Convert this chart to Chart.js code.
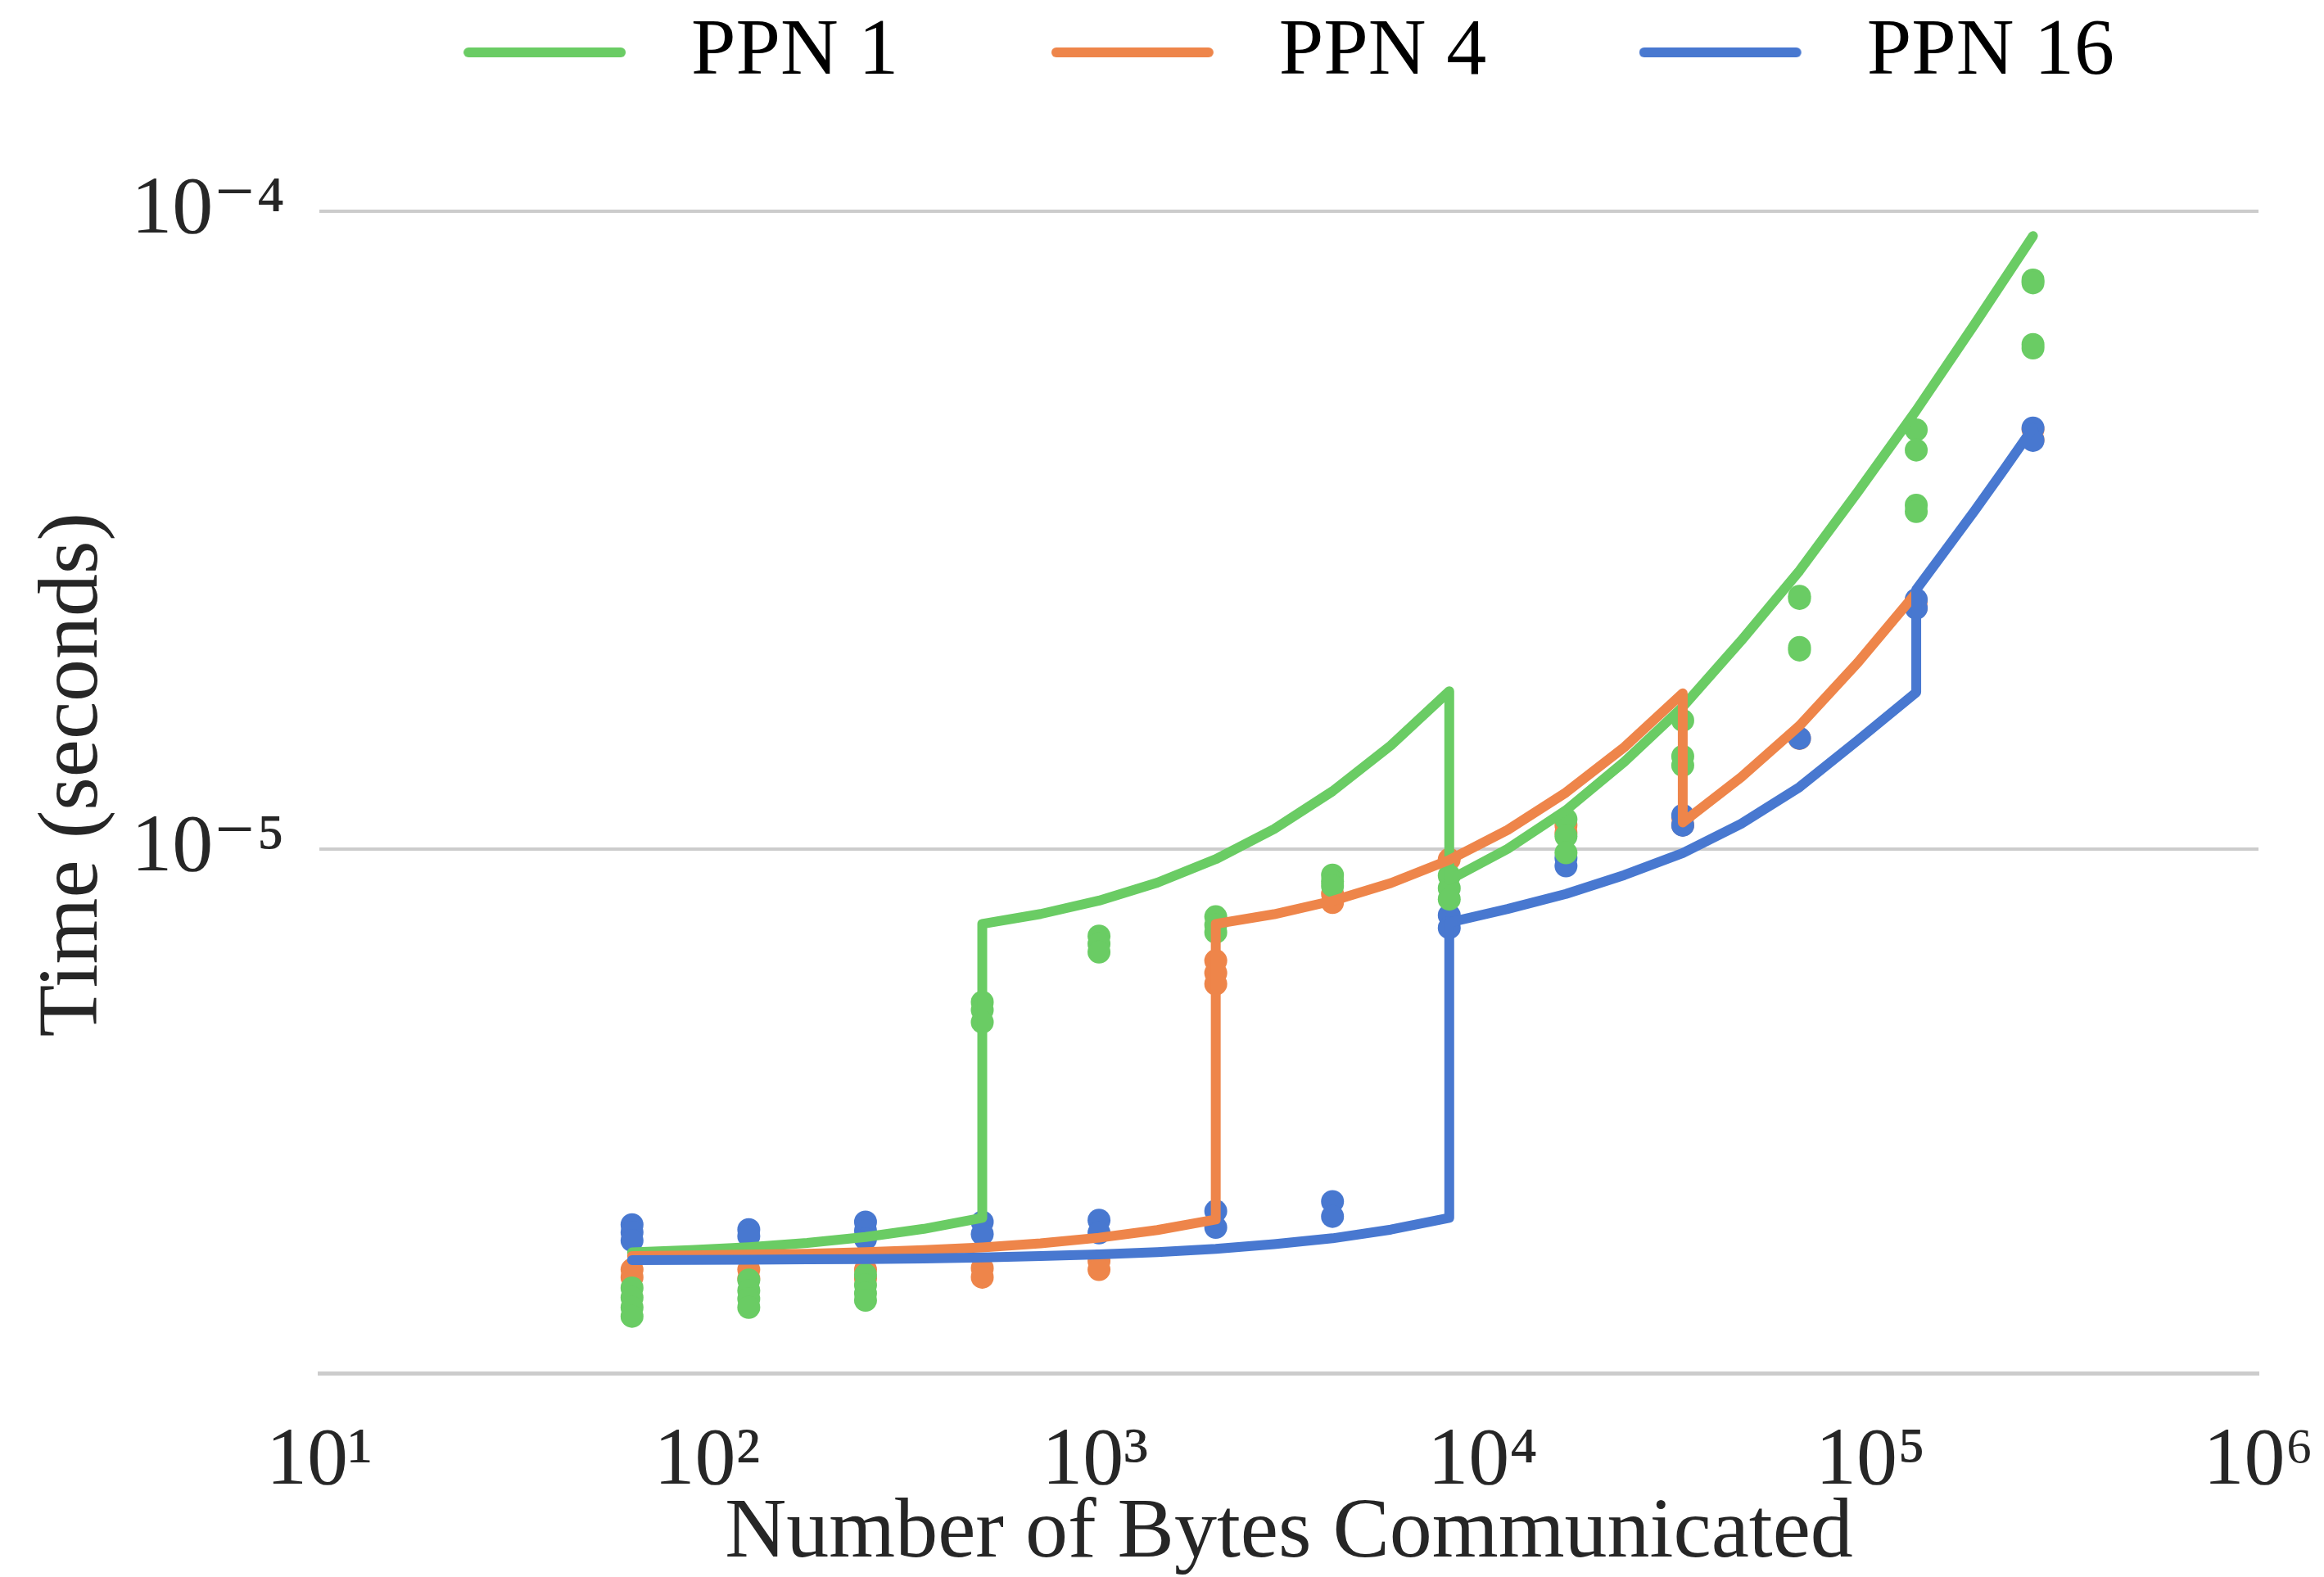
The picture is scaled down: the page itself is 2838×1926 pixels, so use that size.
<!DOCTYPE html>
<html>
<head>
<meta charset="utf-8">
<script src="https://cdn.jsdelivr.net/npm/chart.js@4/dist/chart.umd.min.js"></script>
<style>
  html, body { margin: 0; padding: 0; background: #fff; }
</style>
</head>
<body>
<canvas id="chart" width="2838" height="1926"></canvas>
<script>
// message sizes (bytes) where timings were measured
const messageSizes = [64, 128, 256, 512, 1024, 2048, 4096, 8192, 16384, 32768, 65536, 131072, 262144];

// measured times (seconds), one list per message size
const ppn1Times = [
    [2.05e-6, 1.98e-6, 1.91e-6, 1.85e-6],
    [2.11e-6, 2.03e-6, 1.97e-6, 1.91e-6],
    [2.15e-6, 2.07e-6, 2.01e-6, 1.96e-6],
    [5.75e-6, 5.59e-6, 5.35e-6],
    [7.30e-6, 7.10e-6, 6.89e-6],
    [7.83e-6, 7.60e-6, 7.40e-6],
    [9.10e-6, 8.90e-6, 8.75e-6],
    [9.08e-6, 8.68e-6, 8.34e-6],
    [1.113e-5, 1.047e-5, 9.86e-6],
    [1.59e-5, 1.397e-5, 1.352e-5],
    [2.49e-5, 2.47e-5, 2.07e-5, 2.05e-5],
    [4.54e-5, 4.22e-5, 3.46e-5, 3.38e-5],
    [7.80e-5, 7.72e-5, 6.18e-5, 6.10e-5]
];
const ppn4Times = [
    [2.19e-6, 2.13e-6],
    [2.19e-6, 2.12e-6],
    [2.19e-6, 2.12e-6],
    [2.20e-6, 2.13e-6],
    [2.26e-6, 2.19e-6],
    [6.68e-6, 6.39e-6, 6.14e-6],
    [8.50e-6, 8.24e-6],
    [9.63e-6],
    [1.09e-5, 1.06e-5],
    [1.12e-5, 1.09e-5],
    [1.49e-5],
    [2.45e-5, 2.39e-5],
    [4.55e-5, 4.38e-5]
];
const ppn16Times = [
    [2.576e-6, 2.505e-6, 2.432e-6],
    [2.53e-6, 2.47e-6],
    [2.60e-6, 2.52e-6, 2.445e-6],
    [2.60e-6, 2.489e-6],
    [2.618e-6, 2.50e-6],
    [2.705e-6, 2.55e-6],
    [2.80e-6, 2.653e-6],
    [7.87e-6, 7.52e-6],
    [9.68e-6, 9.405e-6],
    [1.129e-5, 1.089e-5],
    [1.491e-5],
    [2.46e-5, 2.385e-5],
    [4.57e-5, 4.37e-5]
];

// model curves (x = bytes, y = seconds), repeated x = jump
const ppn1ModelX = [64, 90.5, 128, 181, 256, 362, 512, 512, 724, 1024, 1448, 2048, 2896, 4096, 5793, 8192, 8192, 11585, 16384, 23170, 32768, 46341, 65536, 92682, 131072, 185364, 262144];
const ppn1ModelY = [2.33e-6, 2.349e-6, 2.375e-6, 2.411e-6, 2.463e-6, 2.537e-6, 2.64e-6, 7.63e-6, 7.906e-6, 8.298e-6, 8.853e-6, 9.637e-6, 1.0745e-5, 1.2314e-5, 1.453e-5, 1.767e-5, 8.94e-6, 1.00e-5, 1.15e-5, 1.37e-5, 1.67e-5, 2.12e-5, 2.73e-5, 3.63e-5, 4.87e-5, 6.65e-5, 9.14e-5];
const ppn4ModelX = [64, 90.5, 128, 181, 256, 362, 512, 724, 1024, 1448, 2048, 2048, 2896, 4096, 5793, 8192, 11585, 16384, 23170, 32768, 32768, 46341, 65536, 92682, 131072];
const ppn4ModelY = [2.30e-6, 2.305e-6, 2.311e-6, 2.319e-6, 2.332e-6, 2.349e-6, 2.373e-6, 2.408e-6, 2.457e-6, 2.526e-6, 2.624e-6, 7.63e-6, 7.90e-6, 8.29e-6, 8.84e-6, 9.61e-6, 1.071e-5, 1.226e-5, 1.444e-5, 1.754e-5, 1.10e-5, 1.295e-5, 1.56e-5, 1.96e-5, 2.52e-5];
const ppn16ModelX = [64, 128, 181, 256, 362, 512, 724, 1024, 1448, 2048, 2896, 4096, 5793, 8192, 8192, 11585, 16384, 23170, 32768, 46341, 65536, 92682, 131072, 131072, 155872, 185364, 220436, 262144];
const ppn16ModelY = [2.266e-6, 2.269e-6, 2.272e-6, 2.275e-6, 2.28e-6, 2.288e-6, 2.299e-6, 2.313e-6, 2.332e-6, 2.36e-6, 2.40e-6, 2.452e-6, 2.53e-6, 2.64e-6, 7.67e-6, 8.05e-6, 8.5e-6, 9.1e-6, 9.85e-6, 1.095e-5, 1.25e-5, 1.48e-5, 1.76e-5, 2.55e-5, 2.94e-5, 3.39e-5, 3.93e-5, 4.57e-5];

// axes
const xTickValues = [10, 100, 1000, 10000, 100000, 1000000];
const xTickLabels = ['10\u00B9', '10\u00B2', '10\u00B3', '10\u2074', '10\u2075', '10\u2076'];
const yTickValues = [1e-5, 1e-4];
const yTickLabels = ['10\u207B\u2075', '10\u207B\u2074'];
const yMin = 1.507e-6;
const yMax = 1.135e-4;

const seriesNames = ['PPN 1', 'PPN 4', 'PPN 16'];
const seriesColors = ['#6acc64', '#ee854a', '#4878d0'];

const fontFamily = '"Liberation Serif", "DejaVu Serif", serif';
const textColor = '#262626';

function scatterPoints(times) {
    const pts = [];
    messageSizes.forEach((size, i) => {
        times[i].forEach(t => pts.push({ x: size, y: t }));
    });
    return pts;
}
function modelPoints(xs, ys) {
    return xs.map((x, i) => ({ x: x, y: ys[i] }));
}

// legend swatch: a short thick line with round ends
function legendSwatch(color) {
    const c = document.createElement('canvas');
    c.width = 229;
    c.height = 14;
    const g = c.getContext('2d');
    g.strokeStyle = color;
    g.lineWidth = 12;
    g.lineCap = 'round';
    g.beginPath();
    g.moveTo(6, 7);
    g.lineTo(192, 7);
    g.stroke();
    return c;
}

function lineSet(i, xs, ys, order) {
    return {
        type: 'scatter',
        label: seriesNames[i],
        data: modelPoints(xs, ys),
        showLine: true,
        borderColor: seriesColors[i],
        backgroundColor: seriesColors[i],
        borderWidth: 12,
        borderCapStyle: 'round',
        borderJoinStyle: 'round',
        pointRadius: 0,
        tension: 0,
        order: order
    };
}
function dotSet(i, times, order) {
    return {
        type: 'scatter',
        label: seriesNames[i] + ' runs',
        data: scatterPoints(times),
        showLine: false,
        backgroundColor: seriesColors[i],
        pointBackgroundColor: seriesColors[i],
        pointBorderWidth: 0,
        pointRadius: 14,
        order: order
    };
}

const chart = new Chart(document.getElementById('chart').getContext('2d'), {
    type: 'scatter',
    data: {
        datasets: [
            lineSet(0, ppn1ModelX, ppn1ModelY, 2),
            lineSet(1, ppn4ModelX, ppn4ModelY, 1),
            lineSet(2, ppn16ModelX, ppn16ModelY, 0),
            dotSet(0, ppn1Times, 3),
            dotSet(1, ppn4Times, 5),
            dotSet(2, ppn16Times, 4)
        ]
    },
    options: {
        responsive: false,
        animation: false,
        devicePixelRatio: 1,
        events: [],
        layout: { padding: { left: 0, right: 80, top: 0, bottom: 0 } },
        scales: {
            x: {
                type: 'logarithmic',
                position: 'bottom',
                min: 10,
                max: 1000000,
                afterBuildTicks: scale => { scale.ticks = xTickValues.map(v => ({ value: v })); },
                afterFit: scale => {
                    scale.height = 249;
                    scale.paddingLeft = 0;
                    scale.paddingRight = 0;
                },
                grid: { display: false, drawTicks: false },
                border: { display: true, color: '#cccccc', width: 5 },
                ticks: {
                    autoSkip: false,
                    maxRotation: 0,
                    padding: 49,
                    color: textColor,
                    font: { family: fontFamily, size: 100 },
                    callback: v => xTickLabels[xTickValues.indexOf(v)]
                },
                title: {
                    display: true,
                    text: 'Number of Bytes Communicated',
                    color: textColor,
                    font: { family: fontFamily, size: 104, lineHeight: 1 },
                    padding: { top: 0, bottom: 0 }
                }
            },
            y: {
                type: 'logarithmic',
                min: yMin,
                max: yMax,
                afterBuildTicks: scale => { scale.ticks = yTickValues.map(v => ({ value: v })); },
                afterFit: scale => {
                    scale.width = 390;
                    scale.paddingTop = 0;
                    scale.paddingBottom = 0;
                },
                grid: { color: '#cccccc', lineWidth: 4, drawTicks: false },
                border: { display: false },
                ticks: {
                    autoSkip: false,
                    padding: 42,
                    color: textColor,
                    font: { family: fontFamily, size: 100 },
                    callback: v => yTickLabels[yTickValues.indexOf(v)]
                },
                title: {
                    display: true,
                    text: 'Time (seconds)',
                    color: textColor,
                    font: { family: fontFamily, size: 104 },
                    padding: { top: 28, bottom: 0 }
                }
            }
        },
        plugins: {
            tooltip: { enabled: false },
            legend: {
                position: 'top',
                fullSize: false,
                weight: 1000,
                labels: {
                    usePointStyle: true,
                    pointStyleWidth: 229,
                    padding: 15,
                    color: textColor,
                    font: { family: fontFamily, size: 98 },
                    // trailing spaces keep the gap between entries; last one has none
                    generateLabels: () => seriesNames.map((name, i) => ({
                        text: i < seriesNames.length - 1 ? name + '       ' : name,
                        fillStyle: seriesColors[i],
                        strokeStyle: seriesColors[i],
                        lineWidth: 0,
                        pointStyle: legendSwatch(seriesColors[i]),
                        hidden: false,
                        datasetIndex: i
                    }))
                }
            },
            // empty spacer between legend and plot
            subtitle: {
                display: true,
                text: '',
                position: 'top',
                fullSize: false,
                weight: 500,
                font: { size: 92, lineHeight: 1 },
                padding: 0
            }
        }
    }
});
</script>
</body>
</html>
